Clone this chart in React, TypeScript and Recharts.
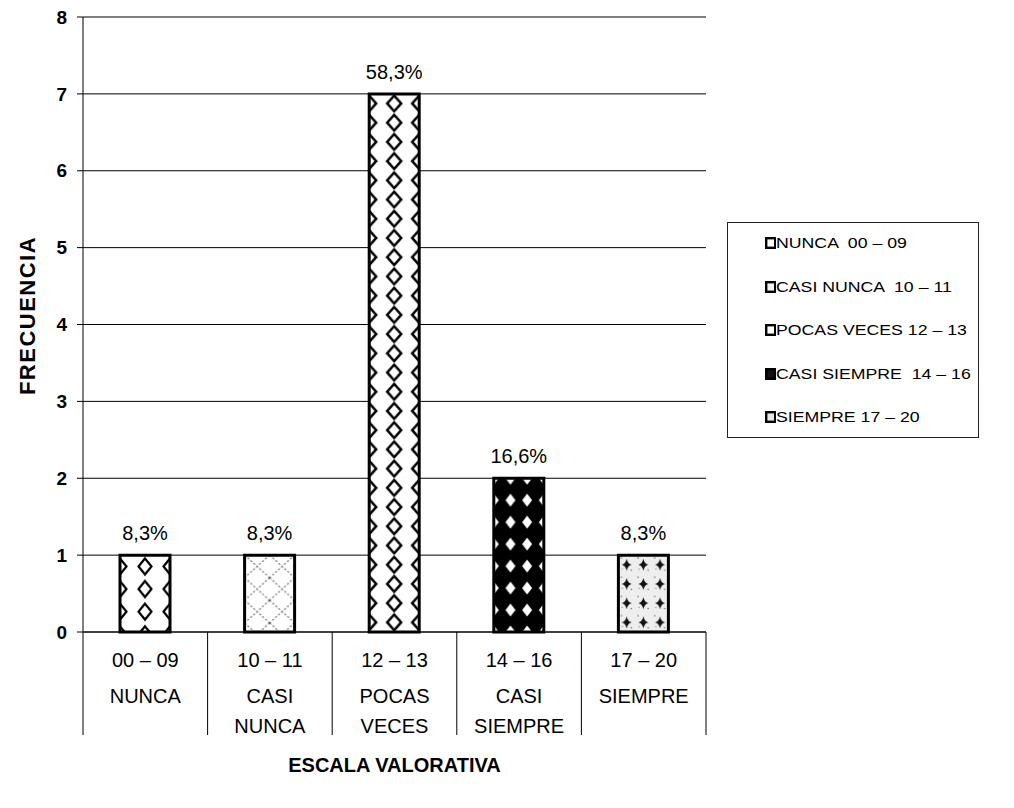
import React from 'react';
import { BarChart, Bar, XAxis, YAxis, CartesianGrid, LabelList, Legend, Cell } from 'recharts';

// Frequency of answers per rating band
const ranges = ['00 – 09', '10 – 11', '12 – 13', '14 – 16', '17 – 20'];
const levels = [['NUNCA'], ['CASI', 'NUNCA'], ['POCAS', 'VECES'], ['CASI', 'SIEMPRE'], ['SIEMPRE']];
const frequency = [1, 1, 7, 2, 1];
const percentLabels = ['8,3%', '8,3%', '58,3%', '16,6%', '8,3%'];
const legendLabels = [
  'NUNCA  00 – 09',
  'CASI NUNCA  10 – 11',
  'POCAS VECES 12 – 13',
  'CASI SIEMPRE  14 – 16',
  'SIEMPRE 17 – 20',
];
const yTicks = [0, 1, 2, 3, 4, 5, 6, 7, 8];

const patternIds = ['pNunca', 'pCasiNunca', 'pPocas', 'pCasiSiempre', 'pSiempre'];
const markerFills = ['#fff', '#f2f2f2', '#fff', '#111', '#e6e6e6'];

const data = ranges.map((range, i) => ({
  range,
  freq: frequency[i],
  pct: percentLabels[i],
}));

const FONT = '"Liberation Sans", Arial, Helvetica, sans-serif';

const dia = (cx: number, cy: number, rx: number, ry: number) =>
  `M${cx} ${cy - ry} L${cx + rx} ${cy} L${cx} ${cy + ry} L${cx - rx} ${cy} Z`;

function Patterns() {
  const hN = 22.6;
  const hP = 19.2;
  const hS = 22;
  return (
    <defs>
      {/* open diamonds */}
      <pattern id="pNunca" patternUnits="objectBoundingBox" width={0.5} height={1 / (3.4 * frequency[0])}>
        <rect width={25} height={hN} fill="#fff" />
        <path d={dia(0, hN / 2, 6.5, 8)} fill="none" stroke="#000" strokeWidth={2.2} />
        <path d={dia(25, hN / 2, 6.5, 8)} fill="none" stroke="#000" strokeWidth={2.2} />
      </pattern>
      {/* dashed lattice */}
      <pattern id="pCasiNunca" patternUnits="objectBoundingBox" width={0.5} height={1 / (3.4 * frequency[1])}>
        <rect width={25} height={hN} fill="#fff" />
        <path d={`M0 0 L25 ${hN} M25 0 L0 ${hN}`} stroke="#555" strokeWidth={1} strokeDasharray="2 2" />
      </pattern>
      {/* open diamonds, tighter rows */}
      <pattern id="pPocas" patternUnits="objectBoundingBox" width={0.5} height={1 / (4 * frequency[2])}>
        <rect width={25} height={hP} fill="#fff" />
        <path d={dia(0, hP / 2, 7, 7.8)} fill="none" stroke="#000" strokeWidth={2.5} />
        <path d={dia(25, hP / 2, 7, 7.8)} fill="none" stroke="#000" strokeWidth={2.5} />
      </pattern>
      {/* solid black diamonds */}
      <pattern id="pCasiSiempre" patternUnits="objectBoundingBox" width={1 / 3} height={1 / (3.5 * frequency[3])}>
        <rect width={16.7} height={hS} fill="#000" />
        <path d={dia(0, 0, 5, 6.5)} fill="#fff" />
        <path d={dia(16.7, 0, 5, 6.5)} fill="#fff" />
        <path d={dia(0, hS, 5, 6.5)} fill="#fff" />
        <path d={dia(16.7, hS, 5, 6.5)} fill="#fff" />
      </pattern>
      {/* speckled stars */}
      <pattern id="pSiempre" patternUnits="objectBoundingBox" width={1 / 3} height={1 / (4 * frequency[4])}>
        <rect width={16.7} height={hP} fill="#eee" />
        <circle cx={3} cy={3} r={0.8} fill="#777" />
        <circle cx={13} cy={15} r={0.8} fill="#777" />
        <circle cx={4} cy={14} r={0.7} fill="#999" />
        <path
          d={`M8.3 ${hP / 2 - 6} Q9.3 ${hP / 2 - 1} 13.3 ${hP / 2} Q9.3 ${hP / 2 + 1} 8.3 ${hP / 2 + 6} Q7.3 ${hP / 2 + 1} 3.3 ${hP / 2} Q7.3 ${hP / 2 - 1} 8.3 ${hP / 2 - 6} Z`}
          fill="#111"
        />
      </pattern>
    </defs>
  );
}

// Category tick: range on the first row, level name below, with the
// table's cell borders taken from the band half-width of the tick.
const CategoryTick = (props: any) => {
  const { x, y, payload } = props;
  const idx = ranges.indexOf(payload.value);
  const lines = idx >= 0 ? levels[idx] : [];
  const half = typeof payload.offset === 'number' ? payload.offset : 0;
  const textProps = { textAnchor: 'middle' as const, fontSize: 20, fill: '#000', fontFamily: FONT };
  return (
    <g>
      {half > 0 && <line x1={x - half} y1={y} x2={x - half} y2={y + 103} stroke="#000" strokeWidth={1} />}
      {half > 0 && idx === ranges.length - 1 && (
        <line x1={x + half} y1={y} x2={x + half} y2={y + 103} stroke="#000" strokeWidth={1} />
      )}
      <text x={x} y={y} dy={35} {...textProps}>
        {payload.value}
      </text>
      {lines.map((line, k) => (
        <text key={k} x={x} y={y} dy={71 + 30 * k} {...textProps}>
          {line}
        </text>
      ))}
    </g>
  );
};

const LegendBox = () => (
  <div
    style={{
      width: 252,
      height: 216,
      border: '1px solid #222',
      boxSizing: 'border-box',
      fontFamily: FONT,
      fontSize: 15,
      color: '#000',
      paddingTop: 10,
      paddingLeft: 37,
      background: '#fff',
    }}
  >
    {legendLabels.map((label, i) => (
      <div key={label} style={{ height: 43.5, display: 'flex', alignItems: 'flex-start', whiteSpace: 'pre' }}>
        <svg width={11} height={12} style={{ marginTop: 4 }}>
          <rect x={1.2} y={1.2} width={9} height={9.6} fill={markerFills[i]} stroke="#000" strokeWidth={2.4} />
        </svg>
        <span
          style={{
            lineHeight: '20px',
            display: 'inline-block',
            transform: 'scaleX(1.18)',
            transformOrigin: 'left center',
          }}
        >
          {label}
        </span>
      </div>
    ))}
  </div>
);

export default function App() {
  return (
    <div style={{ width: 1000, height: 790 }}>
      <BarChart
        width={1000}
        height={790}
        data={data}
        margin={{ top: 9, right: 302, bottom: 56, left: 0 }}
        style={{ fontFamily: FONT }}
      >
        <Patterns />
        <CartesianGrid horizontal vertical={false} stroke="#000" strokeWidth={1} />
        <XAxis
          dataKey="range"
          height={110}
          tickSize={0}
          tickMargin={0}
          tickLine={false}
          axisLine={{ stroke: '#000' }}
          interval={0}
          tick={CategoryTick}
          label={{
            value: 'ESCALA VALORATIVA',
            position: 'bottom',
            offset: 16,
            fontSize: 20,
            fontWeight: 'bold',
            fill: '#000',
          }}
        />
        <YAxis
          width={75}
          domain={[0, 8]}
          ticks={yTicks}
          interval={0}
          tickSize={6}
          tickMargin={10}
          tickLine={{ stroke: '#000' }}
          axisLine={{ stroke: '#000' }}
          tick={{ fontSize: 19, fill: '#000', fontWeight: 'bold' }}
          label={{
            content: ({ viewBox }: any) => {
              const cx = viewBox.x + 19;
              const cy = viewBox.y + viewBox.height / 2 - 9;
              return (
                <text
                  x={cx}
                  y={cy}
                  transform={`rotate(-90 ${cx} ${cy})`}
                  textAnchor="middle"
                  dominantBaseline="central"
                  fontSize={22}
                  letterSpacing={1.5}
                  fontWeight="bold"
                  fill="#000"
                  fontFamily={FONT}
                >
                  FRECUENCIA
                </text>
              );
            },
          }}
        />
        <YAxis
          yAxisId="r"
          orientation="right"
          domain={[0, 8]}
          ticks={yTicks}
          width={0}
          tick={false}
          tickLine={false}
          axisLine={{ stroke: '#000' }}
        />
        <Legend
          layout="horizontal"
          verticalAlign="middle"
          align="center"
          content={LegendBox}
          wrapperStyle={{ left: 719, top: 214, width: 252, height: 216 }}
        />
        <Bar dataKey="freq" barSize={50} stroke="#000" strokeWidth={3} isAnimationActive={false}>
          {data.map((d, i) => (
            <Cell key={d.range} fill={`url(#${patternIds[i]})`} />
          ))}
          <LabelList dataKey="pct" position="top" offset={15} fontSize={20} fill="#000" />
        </Bar>
      </BarChart>
    </div>
  );
}
